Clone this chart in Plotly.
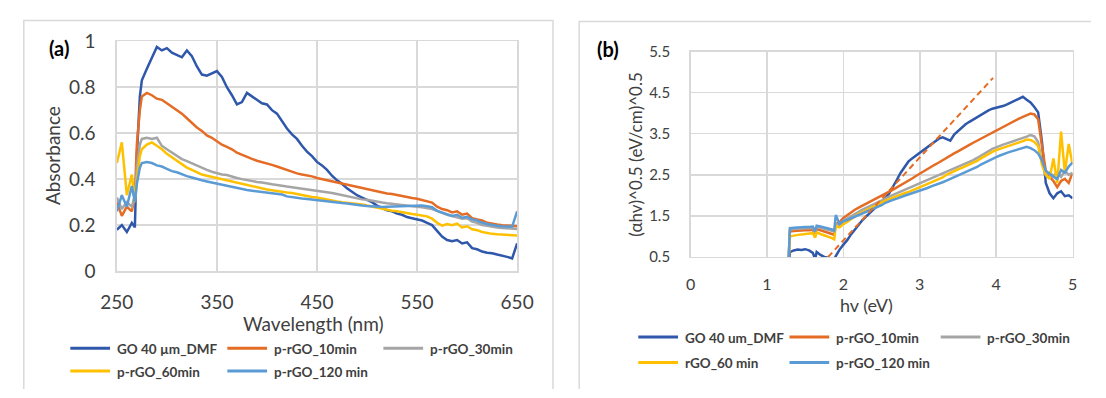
import plotly.graph_objects as go

W, H = 1106, 398

# ---------------- (a) absorbance spectra ----------------
wavelength = [250, 255, 260, 265, 268, 270, 273, 275, 280, 285, 290, 295, 300, 305, 310, 315,
              320, 325, 330, 335, 340, 345, 350, 355, 360, 365, 370, 375, 380, 385, 390, 395,
              400, 405, 410, 415, 420, 425, 430, 435, 440, 445, 450, 455, 460, 465, 470, 475,
              480, 485, 490, 495, 500, 505, 510, 515, 520, 525, 530, 535, 540, 545, 550, 555,
              560, 565, 570, 575, 580, 585, 590, 595, 600, 605, 610, 615, 620, 625, 630, 635,
              640, 645, 650]

abs_go = [0.18, 0.20, 0.17, 0.21, 0.19, 0.50, 0.76, 0.83, 0.88, 0.93, 0.975, 0.96, 0.97, 0.95, 0.94, 0.93,
          0.96, 0.935, 0.89, 0.855, 0.85, 0.86, 0.87, 0.845, 0.80, 0.765, 0.725, 0.735, 0.775, 0.76, 0.745, 0.73,
          0.725, 0.70, 0.685, 0.65, 0.62, 0.595, 0.575, 0.545, 0.52, 0.50, 0.475, 0.46, 0.44, 0.415, 0.395, 0.38,
          0.36, 0.345, 0.33, 0.32, 0.31, 0.30, 0.285, 0.275, 0.265, 0.26, 0.25, 0.245, 0.235, 0.23, 0.225, 0.22,
          0.21, 0.20, 0.175, 0.15, 0.135, 0.13, 0.135, 0.12, 0.125, 0.10, 0.095, 0.085, 0.08, 0.078, 0.072, 0.068,
          0.062, 0.055, 0.12]

abs_10 = [0.30, 0.24, 0.28, 0.26, 0.33, 0.55, 0.70, 0.76, 0.775, 0.765, 0.75, 0.745, 0.73, 0.715, 0.70, 0.685,
          0.665, 0.645, 0.625, 0.61, 0.59, 0.58, 0.565, 0.55, 0.54, 0.53, 0.515, 0.505, 0.495, 0.488, 0.48, 0.475,
          0.47, 0.462, 0.455, 0.447, 0.44, 0.432, 0.425, 0.42, 0.417, 0.412, 0.405, 0.40, 0.395, 0.39, 0.385, 0.38,
          0.375, 0.37, 0.365, 0.36, 0.355, 0.35, 0.347, 0.342, 0.338, 0.335, 0.33, 0.325, 0.322, 0.318, 0.315, 0.31,
          0.305, 0.298, 0.28, 0.27, 0.265, 0.255, 0.26, 0.245, 0.25, 0.23, 0.225, 0.22, 0.21, 0.205, 0.203, 0.20,
          0.198, 0.197, 0.195]

abs_30 = [0.32, 0.27, 0.30, 0.28, 0.33, 0.45, 0.55, 0.575, 0.58, 0.575, 0.58, 0.545, 0.53, 0.515, 0.50, 0.487,
          0.478, 0.468, 0.46, 0.45, 0.44, 0.432, 0.425, 0.42, 0.418, 0.41, 0.405, 0.40, 0.395, 0.39, 0.388, 0.385,
          0.38, 0.378, 0.375, 0.37, 0.368, 0.365, 0.362, 0.36, 0.357, 0.353, 0.35, 0.347, 0.343, 0.34, 0.335, 0.33,
          0.325, 0.32, 0.315, 0.312, 0.31, 0.305, 0.30, 0.298, 0.295, 0.292, 0.29, 0.287, 0.285, 0.282, 0.28, 0.278,
          0.275, 0.27, 0.262, 0.252, 0.245, 0.24, 0.235, 0.228, 0.23, 0.215, 0.21, 0.20, 0.197, 0.192, 0.19, 0.188,
          0.186, 0.185, 0.183]

abs_60 = [0.47, 0.56, 0.33, 0.42, 0.30, 0.40, 0.50, 0.53, 0.55, 0.56, 0.545, 0.53, 0.51, 0.495, 0.48, 0.465,
          0.45, 0.44, 0.43, 0.42, 0.415, 0.41, 0.405, 0.40, 0.395, 0.39, 0.385, 0.378, 0.372, 0.367, 0.362, 0.357,
          0.355, 0.352, 0.348, 0.345, 0.342, 0.34, 0.335, 0.33, 0.325, 0.322, 0.32, 0.315, 0.31, 0.307, 0.303, 0.30,
          0.298, 0.296, 0.294, 0.29, 0.285, 0.28, 0.277, 0.272, 0.268, 0.263, 0.26, 0.255, 0.252, 0.248, 0.245, 0.242,
          0.238, 0.228, 0.21, 0.198, 0.205, 0.20, 0.207, 0.19, 0.195, 0.182, 0.178, 0.17, 0.165, 0.162, 0.16, 0.158,
          0.157, 0.156, 0.155]

abs_120 = [0.26, 0.33, 0.28, 0.37, 0.30, 0.38, 0.45, 0.47, 0.475, 0.47, 0.46, 0.455, 0.445, 0.435, 0.43, 0.42,
           0.413, 0.407, 0.40, 0.395, 0.39, 0.385, 0.38, 0.375, 0.37, 0.365, 0.36, 0.357, 0.353, 0.35, 0.347, 0.345,
           0.342, 0.34, 0.337, 0.333, 0.325, 0.321, 0.318, 0.316, 0.314, 0.311, 0.308, 0.305, 0.302, 0.30, 0.298, 0.296,
           0.294, 0.29, 0.287, 0.285, 0.283, 0.281, 0.28, 0.279, 0.28, 0.281, 0.282, 0.284, 0.285, 0.286, 0.287, 0.285,
           0.282, 0.278, 0.262, 0.255, 0.25, 0.24, 0.245, 0.232, 0.236, 0.225, 0.22, 0.21, 0.205, 0.20, 0.197, 0.195,
           0.194, 0.193, 0.26]

# ---------------- (b) Tauc plot ----------------
hv = [1.28, 1.30, 1.35, 1.40, 1.45, 1.50, 1.55, 1.60, 1.63, 1.65, 1.70, 1.75, 1.80, 1.85, 1.88, 1.90,
      1.95, 2.00, 2.05, 2.10, 2.15, 2.20, 2.25, 2.30, 2.35, 2.40, 2.45, 2.50, 2.55, 2.60, 2.65, 2.70,
      2.75, 2.80, 2.85, 2.90, 2.95, 3.00, 3.05, 3.10, 3.15, 3.20, 3.25, 3.30, 3.35, 3.40, 3.45, 3.50,
      3.55, 3.60, 3.65, 3.70, 3.75, 3.80, 3.85, 3.90, 3.95, 4.00, 4.05, 4.10, 4.15, 4.20, 4.25, 4.30,
      4.35, 4.40, 4.45, 4.50, 4.55, 4.60, 4.65, 4.70, 4.75, 4.80, 4.85, 4.90, 4.95, 5.00]

tauc_go = [0.20, 0.62, 0.66, 0.68, 0.67, 0.69, 0.66, 0.60, 0.45, 0.62, 0.55, 0.50, 0.48, 0.47, 0.45, 0.52,
           0.68, 0.80, 0.91, 1.05, 1.17, 1.29, 1.40, 1.49, 1.58, 1.67, 1.76, 1.86, 1.93, 2.05, 2.20, 2.38,
           2.55, 2.70, 2.82, 2.90, 2.97, 3.04, 3.10, 3.17, 3.25, 3.32, 3.38, 3.41, 3.36, 3.33, 3.48, 3.57,
           3.66, 3.73, 3.79, 3.85, 3.91, 3.97, 4.02, 4.07, 4.11, 4.13, 4.15, 4.18, 4.22, 4.27, 4.31, 4.35,
           4.40, 4.33, 4.26, 4.15, 4.02, 3.30, 2.30, 2.05, 1.93, 2.05, 2.10, 1.98, 2.00, 1.93]

tauc_10 = [0.30, 1.12, 1.13, 1.14, 1.14, 1.15, 1.15, 1.16, 1.04, 1.18, 1.15, 1.12, 1.10, 1.07, 1.04, 1.30,
           1.35, 1.45, 1.52, 1.59, 1.65, 1.70, 1.75, 1.80, 1.86, 1.90, 1.94, 1.99, 2.04, 2.09, 2.14, 2.19,
           2.24, 2.29, 2.35, 2.41, 2.47, 2.53, 2.58, 2.64, 2.70, 2.75, 2.80, 2.86, 2.91, 2.97, 3.02, 3.07,
           3.13, 3.18, 3.23, 3.28, 3.33, 3.38, 3.43, 3.48, 3.53, 3.57, 3.62, 3.67, 3.73, 3.78, 3.83, 3.87,
           3.91, 3.95, 3.99, 3.97, 3.85, 3.20, 2.60, 2.45, 2.35, 2.20, 2.35, 2.40, 2.30, 2.55]

tauc_30 = [0.30, 1.17, 1.18, 1.19, 1.19, 1.20, 1.20, 1.21, 1.09, 1.23, 1.21, 1.19, 1.17, 1.14, 1.12, 1.30,
           1.28, 1.38, 1.44, 1.50, 1.55, 1.60, 1.65, 1.70, 1.75, 1.79, 1.83, 1.87, 1.93, 1.97, 2.01, 2.05,
           2.09, 2.13, 2.17, 2.21, 2.25, 2.29, 2.33, 2.37, 2.41, 2.45, 2.49, 2.53, 2.57, 2.61, 2.65, 2.69,
           2.73, 2.77, 2.81, 2.86, 2.91, 2.97, 3.03, 3.08, 3.13, 3.17, 3.21, 3.24, 3.27, 3.30, 3.33, 3.36,
           3.40, 3.43, 3.47, 3.44, 3.30, 2.80, 2.50, 2.55, 2.48, 2.55, 2.45, 2.60, 2.50, 2.55]

tauc_60 = [0.30, 1.00, 1.02, 1.04, 1.05, 1.06, 1.07, 1.08, 0.97, 1.10, 1.06, 1.03, 1.00, 0.96, 0.93, 1.25,
           1.22, 1.30, 1.35, 1.42, 1.50, 1.55, 1.59, 1.64, 1.69, 1.73, 1.77, 1.82, 1.87, 1.91, 1.95, 1.98,
           2.02, 2.05, 2.08, 2.12, 2.15, 2.19, 2.23, 2.27, 2.31, 2.36, 2.40, 2.44, 2.50, 2.55, 2.59, 2.63,
           2.67, 2.71, 2.75, 2.79, 2.84, 2.90, 2.96, 3.01, 3.06, 3.10, 3.13, 3.16, 3.19, 3.22, 3.25, 3.28,
           3.32, 3.36, 3.35, 3.30, 3.20, 2.75, 2.50, 2.40, 2.90, 2.30, 3.55, 2.55, 3.25, 2.75]

tauc_120 = [0.30, 1.20, 1.21, 1.22, 1.22, 1.23, 1.23, 1.24, 1.12, 1.26, 1.24, 1.22, 1.20, 1.17, 1.14, 1.52,
            1.30, 1.37, 1.40, 1.44, 1.48, 1.52, 1.56, 1.60, 1.65, 1.69, 1.72, 1.76, 1.82, 1.86, 1.89, 1.92,
            1.96, 1.99, 2.02, 2.05, 2.08, 2.11, 2.15, 2.18, 2.22, 2.25, 2.29, 2.32, 2.36, 2.40, 2.44, 2.48,
            2.52, 2.56, 2.60, 2.64, 2.69, 2.75, 2.80, 2.85, 2.89, 2.93, 2.97, 3.01, 3.04, 3.07, 3.10, 3.13,
            3.16, 3.18, 3.15, 3.10, 3.02, 2.85, 2.60, 2.52, 2.45, 2.40, 2.62, 2.55, 2.70, 2.80]

# linear extrapolation drawn over the GO absorption edge
fit_hv = [1.80, 3.96]
fit_val = [0.50, 4.86]

names_a = ["GO 40 µm_DMF", "p-rGO_10min", "p-rGO_30min", "p-rGO_60min", "p-rGO_120 min"]
names_b = ["GO 40 um_DMF", "p-rGO_10min", "p-rGO_30min", "rGO_60 min", "p-rGO_120 min"]

# ---------------- styling ----------------
colors = ["#2F58AA", "#E46C24", "#A5A5A5", "#FFC000", "#5B9BD5"]
FONT = "Lato, Carlito, Calibri, sans-serif"
GRID = "#D9D9D9"
TXT = "#404040"


def px(x):
    return x / W


def py(y):
    return 1 - y / H


fig = go.Figure()

series_a = [abs_go, abs_10, abs_30, abs_60, abs_120]
for vals, name, col in zip(series_a, names_a, colors):
    fig.add_trace(go.Scatter(x=wavelength, y=vals, name=name, mode="lines",
                             line=dict(color=col, width=2.5), showlegend=False,
                             xaxis="x", yaxis="y"))

series_b = [tauc_go, tauc_10, tauc_30, tauc_60, tauc_120]
for vals, name, col in zip(series_b, names_b, colors):
    fig.add_trace(go.Scatter(x=hv, y=vals, name=name, mode="lines",
                             line=dict(color=col, width=2.5), showlegend=False,
                             xaxis="x2", yaxis="y2"))

fig.add_trace(go.Scatter(x=fit_hv, y=fit_val, mode="lines", showlegend=False,
                         line=dict(color=colors[1], width=2, dash="6px,4px"),
                         xaxis="x2", yaxis="y2"))

axis_common = dict(showgrid=True, gridcolor=GRID, gridwidth=1.5, zeroline=False,
                   showline=True, linecolor=GRID, linewidth=1.5, mirror=True,
                   ticks="", fixedrange=True)

fig.update_layout(
    width=W, height=H,
    margin=dict(l=0, r=0, t=0, b=0),
    paper_bgcolor="white", plot_bgcolor="white",
    font=dict(family=FONT, color=TXT),
    hovermode=False,
    xaxis=dict(domain=[px(103), px(516)], range=[250, 650], tick0=250, dtick=100,
               tickfont=dict(size=19, color=TXT), ticklabelstandoff=14, anchor="y", **axis_common),
    yaxis=dict(domain=[py(275), py(31)], range=[0, 1], dtick=0.2,
               tickfont=dict(size=19, color=TXT), ticklabelstandoff=16, anchor="x", **axis_common),
    xaxis2=dict(domain=[px(695), px(1089)], range=[0, 5], dtick=1,
                tickfont=dict(size=16, color=TXT), ticklabelstandoff=12, anchor="y2", **axis_common),
    yaxis2=dict(domain=[py(260), py(42)], range=[0.5, 5.5], tick0=0.5, dtick=1,
                tickfont=dict(size=15, color=TXT), ticklabelstandoff=16, anchor="x2", **axis_common),
)

shapes = []
# panel frames
shapes.append(dict(type="path", xref="paper", yref="paper",
                   path=f"M {px(7)} {py(400)} L {px(7)} {py(9)} L {px(553)} {py(9)} L {px(553)} {py(400)}",
                   line=dict(color=GRID, width=1.5)))
shapes.append(dict(type="path", xref="paper", yref="paper",
                   path=f"M {px(580)} {py(400)} L {px(580)} {py(10)} L {px(1108)} {py(10)}",
                   line=dict(color=GRID, width=1.5)))

annotations = []


def text(x, y, s, size, bold=False, angle=0, xanchor="center", color=TXT):
    annotations.append(dict(x=px(x), y=py(y), xref="paper", yref="paper", text=s,
                            showarrow=False, xanchor=xanchor, yanchor="middle",
                            textangle=angle,
                            font=dict(family=FONT, size=size, color=color,
                                      weight="bold" if bold else "normal")))


# panel tags and axis titles
text(43, 38, "(a)", 20, bold=True, color="#000000")
text(610, 39, "(b)", 20, bold=True, color="#000000")
text(36, 152, "Absorbance", 19, angle=-90)
text(306, 331, "Wavelength (nm)", 19)
text(638, 151, "(αhv)^0.5 (eV/cm)^0.5", 17, angle=-90)
text(876, 311, "hv (eV)", 18)

# legends, three entries per row
def legend(names, cols, rows, line_len):
    for i, (name, col) in enumerate(zip(names, colors)):
        x0 = cols[i % 3]
        y0 = rows[i // 3]
        shapes.append(dict(type="line", xref="paper", yref="paper",
                           x0=px(x0), x1=px(x0 + line_len), y0=py(y0), y1=py(y0),
                           line=dict(color=col, width=3)))
        text(x0 + line_len + 5, y0 + 1, name, 13.5, bold=True, xanchor="left")


legend(names_a, [55, 217, 378], [357, 381], 41)
legend(names_b, [641, 797, 953], [345, 372], 41)

fig.update_layout(shapes=shapes, annotations=annotations)

fig.write_html("out.html", config={"displayModeBar": False, "staticPlot": True})
